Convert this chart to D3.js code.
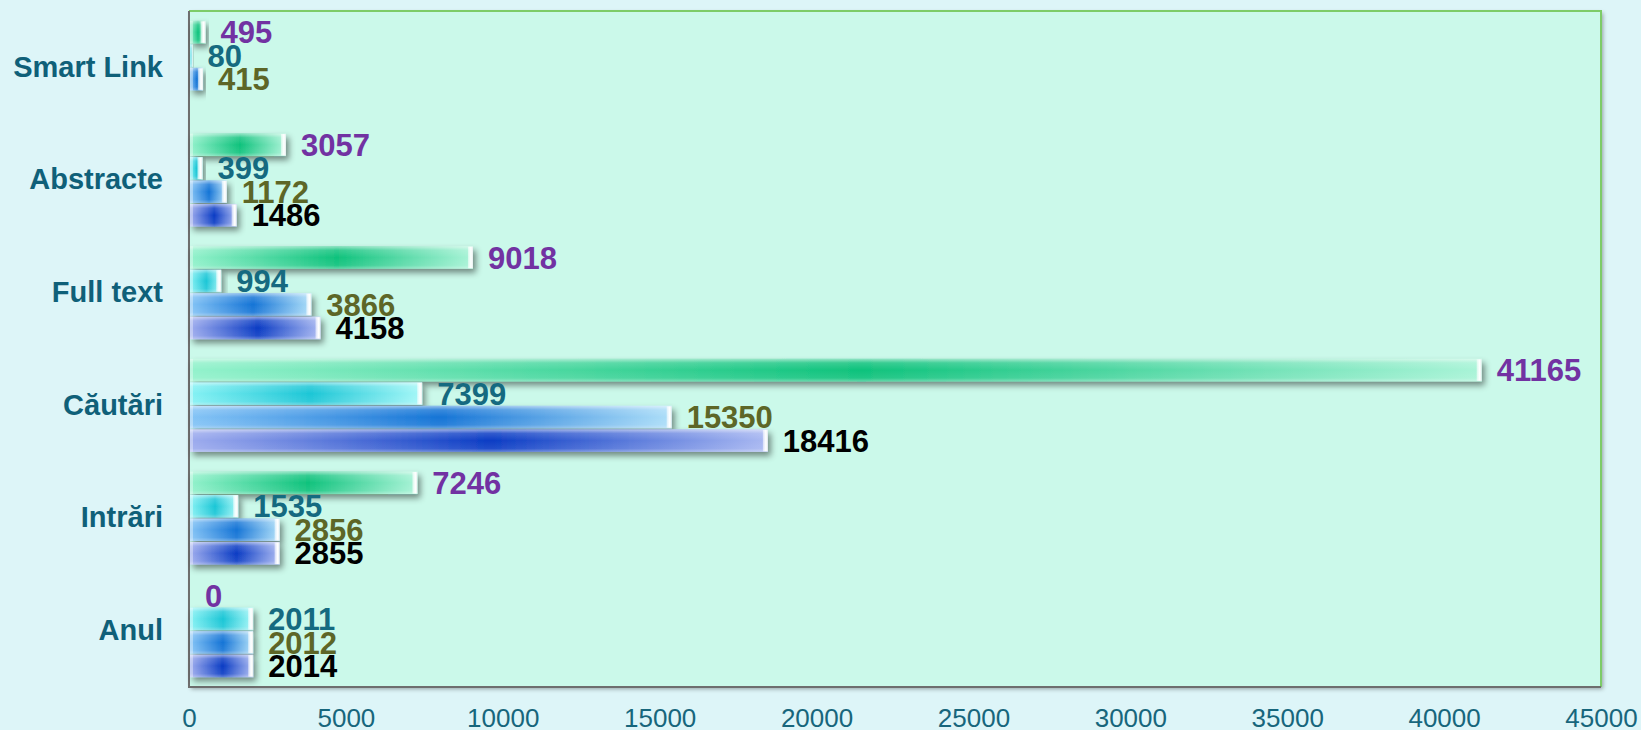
<!DOCTYPE html>
<html><head><meta charset="utf-8">
<script src="https://cdn.jsdelivr.net/npm/d3@7/dist/d3.min.js"></script>
<style>
html,body{margin:0;padding:0;background:#ddf5f8;}
svg{display:block;font-family:"Liberation Sans",Arial,sans-serif;}
</style></head>
<body>
<svg id="chart" width="1641" height="730"></svg>
<script>
const categories = ["Smart Link", "Abstracte", "Full text", "Căutări", "Intrări", "Anul"];
const seriesKeys = ["s1", "s2", "s3", "s4"];
const s1 = [495, 3057, 9018, 41165, 7246, 0];
const s2 = [80, 399, 994, 7399, 1535, 2011];
const s3 = [415, 1172, 3866, 15350, 2856, 2012];
const s4 = [null, 1486, 4158, 18416, 2855, 2014];
const seriesValues = [s1, s2, s3, s4];
const xTicks = [0, 5000, 10000, 15000, 20000, 25000, 30000, 35000, 40000, 45000];

const svg = d3.select("#chart");
const L = 189, R = 1601, T = 11, B = 687;

const x = d3.scaleLinear().domain([0, 45000]).range([L, R]);
const y = d3.scaleBand().domain(categories).range([T, B]).paddingInner(0.166).paddingOuter(0.083);
const yi = d3.scaleBand().domain(seriesKeys).range([0, y.bandwidth()]);

const defs = svg.append("defs");
const grads = {
  s1: ["#93f2cc", "#0fc27c", "#aaf4d8"],
  s2: ["#86f2f4", "#1cc6d6", "#a6f8f8"],
  s3: ["#84c4f6", "#1574d6", "#aedff9"],
  s4: ["#9eacee", "#0b3cc4", "#aab9f2"]
};
seriesKeys.forEach(k => {
  const g = defs.append("linearGradient").attr("id", "g_" + k).attr("x1", 0).attr("x2", 1).attr("y1", 0).attr("y2", 0);
  g.append("stop").attr("offset", "0%").attr("stop-color", grads[k][0]);
  g.append("stop").attr("offset", "52%").attr("stop-color", grads[k][1]);
  g.append("stop").attr("offset", "100%").attr("stop-color", grads[k][2]);
});
const gloss = defs.append("linearGradient").attr("id", "gloss").attr("x1", 0).attr("x2", 0).attr("y1", 0).attr("y2", 1);
gloss.append("stop").attr("offset", "0%").attr("stop-color", "#fff").attr("stop-opacity", 0.55);
gloss.append("stop").attr("offset", "18%").attr("stop-color", "#fff").attr("stop-opacity", 0.15);
gloss.append("stop").attr("offset", "50%").attr("stop-color", "#fff").attr("stop-opacity", 0);
gloss.append("stop").attr("offset", "85%").attr("stop-color", "#fff").attr("stop-opacity", 0.08);
gloss.append("stop").attr("offset", "100%").attr("stop-color", "#fff").attr("stop-opacity", 0.35);
const cap = defs.append("linearGradient").attr("id", "cap").attr("x1", 0).attr("x2", 1).attr("y1", 0).attr("y2", 0);
cap.append("stop").attr("offset", "0%").attr("stop-color", "#fff").attr("stop-opacity", 0.5);
cap.append("stop").attr("offset", "60%").attr("stop-color", "#fff").attr("stop-opacity", 1);
cap.append("stop").attr("offset", "100%").attr("stop-color", "#e8f0f0").attr("stop-opacity", 1);

const sh = defs.append("filter").attr("id", "shadow").attr("x", "-10%").attr("y", "-30%").attr("width", "130%").attr("height", "190%");
sh.append("feDropShadow").attr("dx", 3).attr("dy", 4).attr("stdDeviation", 3).attr("flood-color", "#000").attr("flood-opacity", 0.45);
const psh = defs.append("filter").attr("id", "pshadow").attr("x", "-5%").attr("y", "-5%").attr("width", "110%").attr("height", "110%");
psh.append("feDropShadow").attr("dx", 2).attr("dy", 2).attr("stdDeviation", 2).attr("flood-color", "#000").attr("flood-opacity", 0.35);

// plot area
svg.append("rect").attr("x", L).attr("y", T).attr("width", R - L).attr("height", B - T)
  .attr("fill", "#cbf9ea").attr("filter", "url(#pshadow)");
svg.append("path").attr("d", `M${L},${T}H${R}V${B}`).attr("fill", "none").attr("stroke", "#7dcc68").attr("stroke-width", 2);
svg.append("path").attr("d", `M${L},${T}V${B}H${R}`).attr("fill", "none").attr("stroke", "#6e6e6e").attr("stroke-width", 2);

// x axis tick labels
const xAxis = d3.axisBottom(x).tickValues(xTicks).tickSize(0).tickPadding(0).tickFormat(d3.format("d"));
const xg = svg.append("g").attr("transform", `translate(0,${B + 22})`).call(xAxis);
xg.select(".domain").remove();
xg.selectAll("text").attr("font-size", 26).attr("fill", "#17667c").attr("font-family", '"Liberation Sans",Arial,sans-serif');

// y axis labels
const yAxis = d3.axisLeft(y).tickSize(0).tickPadding(26);
const yg = svg.append("g").attr("transform", `translate(${L},0)`).call(yAxis);
yg.select(".domain").remove();
yg.selectAll("text").attr("font-size", 29).attr("font-weight", "bold").attr("fill", "#0f6079").attr("font-family", '"Liberation Sans",Arial,sans-serif');

const labelColors = { s1: "#7232a2", s2: "#156a80", s3: "#5d6627", s4: "#000000" };

const data = [];
categories.forEach((c, i) => {
  seriesKeys.forEach((k, j) => {
    data.push({ cat: c, key: k, value: seriesValues[j][i] });
  });
});

const barG = svg.append("g");
const present = data.filter(d => d.value !== null);
const bars = barG.selectAll("g.bar").data(present).join("g").attr("class", "bar")
  .attr("transform", d => `translate(0,${y(d.cat) + yi(d.key)})`);
bars.filter(d => d.value > 0).each(function (d) {
  const g = d3.select(this);
  const w = x(d.value) - x(0);
  const h = yi.bandwidth();
  const bg = g.append("g").attr("filter", "url(#shadow)");
  bg.append("rect").attr("x", x(0) + 1).attr("y", 0.5).attr("width", w).attr("height", h - 1).attr("fill", `url(#g_${d.key})`);
  g.append("rect").attr("x", x(0) + 1).attr("y", 0.5).attr("width", w).attr("height", h - 1).attr("fill", "url(#gloss)");
  const cw = Math.min(5, w * 0.4);
  g.append("rect").attr("x", x(0) + 1 + w - cw).attr("y", 1).attr("width", cw).attr("height", h - 2).attr("fill", "url(#cap)");
  g.append("rect").attr("x", x(0) + 1).attr("y", 0.5).attr("width", Math.min(3, w)).attr("height", h - 1).attr("fill", "#fff").attr("opacity", 0.35);
});

svg.append("g").selectAll("text").data(present).join("text")
  .attr("x", d => x(d.value) + 16)
  .attr("y", d => y(d.cat) + yi(d.key) + yi.bandwidth() / 2)
  .attr("dy", "0.36em")
  .attr("font-size", 31).attr("font-weight", "bold")
  .attr("fill", d => labelColors[d.key])
  .text(d => d.value);
</script>
</body></html>
